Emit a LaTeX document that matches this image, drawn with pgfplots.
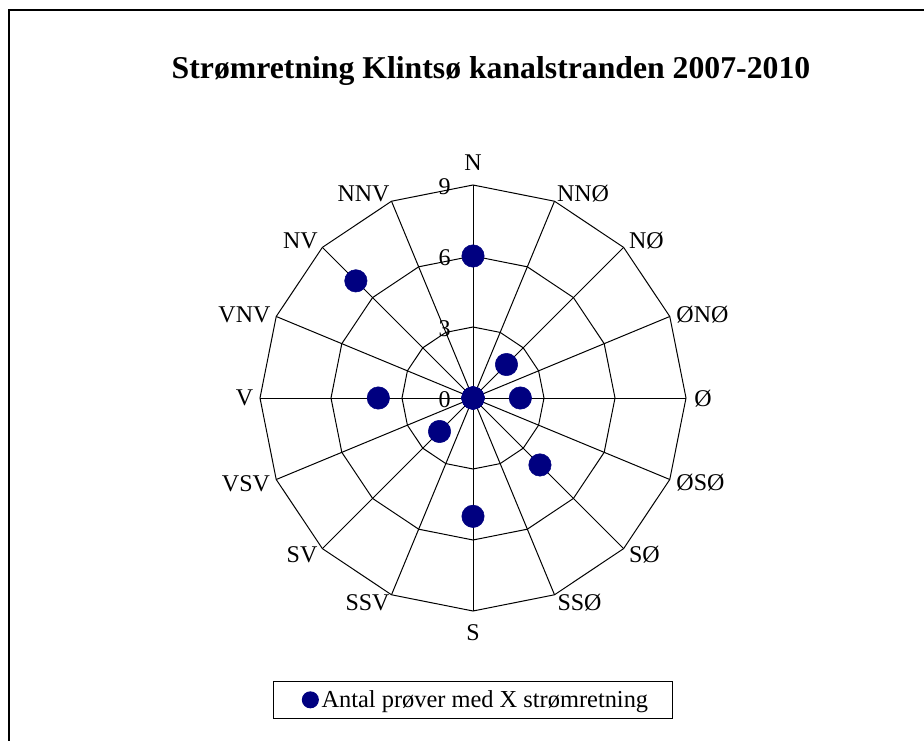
\documentclass[border=0pt]{standalone}
\usepackage{pgfplots}
\pgfplotsset{compat=1.18}
\usepackage{fontspec}
\setmainfont{Liberation Serif}
\definecolor{navy}{RGB}{0,0,128}
\begin{document}
\begin{tikzpicture}
\useasboundingbox (0,0) rectangle (693pt,555pt);
\draw[line width=1pt] (6.75pt,-1pt) -- (6.75pt,547.5pt) -- (694pt,547.5pt);
\node[font=\fontsize{23.8}{28}\selectfont\bfseries] at (368.25pt,501.75pt) {Strømretning Klintsø kanalstranden 2007-2010};
% grid
\begin{scope}[shift={(354.75pt,256.5pt)}, line width=0.75pt, line join=miter]
\foreach \r in {53.25pt,106.5pt,159.75pt}
  \draw (0:\r) \foreach \k in {1,...,15}{ -- (\k*22.5:\r)} -- cycle;
\foreach \k in {0,...,15} \draw (0,0) -- (\k*22.5:159.75pt);
\foreach \x/\y/\t in {0/176.25/N, 82.5/153.4/NNØ, 130.1/117.75/NØ, 172.1/62.6/ØNØ, 172.5/-0.75/Ø,
   170.6/-63.4/ØSØ, 128.6/-117.4/SØ, 79.9/-153.4/SSØ, 0/-176.25/S, -79.1/-153.4/SSV,
   -128.25/-117.4/SV, -170.25/-64.1/VSV, -171.4/0/V, -171.4/62.6/VNV, -129.4/117.75/NV, -82.1/153.4/NNV}
  \node[font=\fontsize{18}{21}\selectfont, inner sep=0pt] at (\x pt,\y pt) {\t};
\foreach \v in {0,3,6,9}
  \node[font=\fontsize{18}{21}\selectfont, inner sep=0pt, anchor=east] at (-16.5pt,{\v*17.75pt-1.5pt}) {\v};
\end{scope}
\begin{axis}[at={(354.75pt,256.5pt)}, anchor=center,
  x=17.75pt, y=17.75pt, xmin=-9, xmax=9, ymin=-9, ymax=9,
  hide axis, clip=false,
  legend style={at={(0.5,-0.2085)}, anchor=center, draw=black, line width=0.75pt,
    font=\fontsize{18.3}{21}\selectfont, inner xsep=16pt, inner ysep=4.6pt},
  legend image code/.code={\path (-11pt,0pt); \fill[navy] (0pt,0pt) circle (6pt);},
]
\addplot[only marks, mark=*, mark size=8.4pt, color=navy, data cs=polar] coordinates {
(90,6) (67.5,0) (45,2) (22.5,0) (0,2) (-22.5,0) (-45,4) (-67.5,0)
(-90,5) (-112.5,0) (-135,2) (-157.5,0) (180,4) (157.5,0) (135,7) (112.5,0)};
\addlegendentry{Antal prøver med X strømretning}
\end{axis}
\end{tikzpicture}
\end{document}
